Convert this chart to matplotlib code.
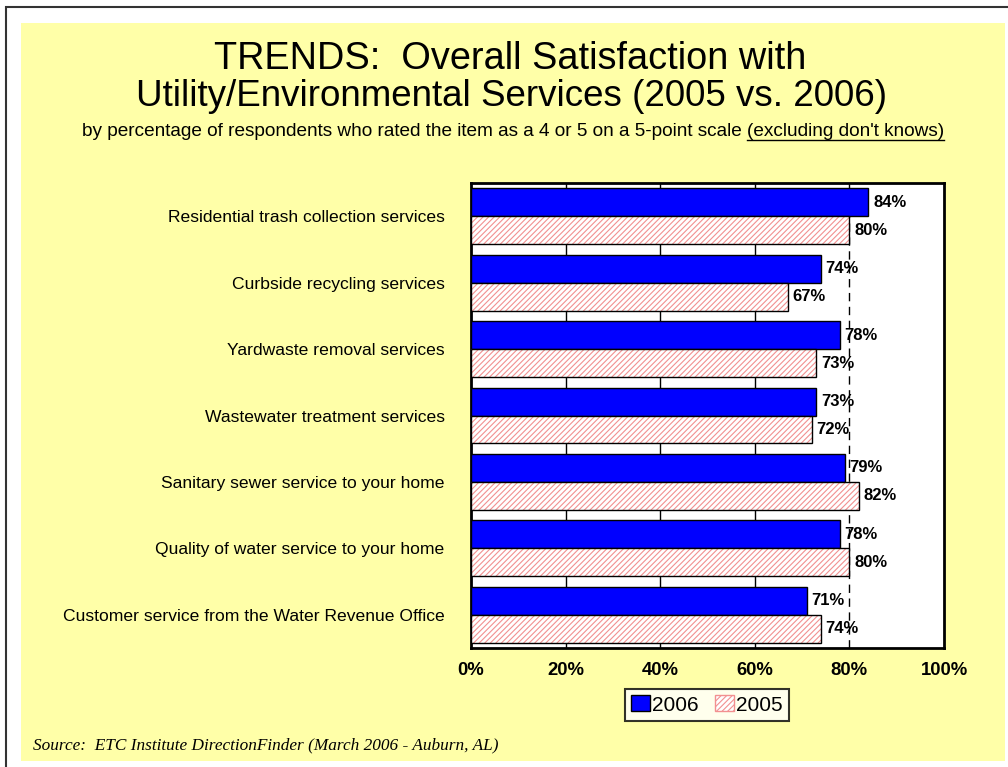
import numpy as np
import matplotlib
matplotlib.use("Agg")
import matplotlib.pyplot as plt
from matplotlib.patches import Rectangle, Patch
from matplotlib.lines import Line2D

plt.rcParams['font.family'] = ['Liberation Sans', 'DejaVu Sans']
plt.rcParams['hatch.linewidth'] = 0.8

# survey items, top to bottom
items = ["Residential trash collection services",
         "Curbside recycling services",
         "Yardwaste removal services",
         "Wastewater treatment services",
         "Sanitary sewer service to your home",
         "Quality of water service to your home",
         "Customer service from the Water Revenue Office"]
pct_2006 = [84, 74, 78, 73, 79, 78, 71]
pct_2005 = [80, 67, 73, 72, 82, 80, 74]
xticks = [0, 20, 40, 60, 80, 100]

W, H = 1008, 767
fig = plt.figure(figsize=(W / 100, H / 100), dpi=100)
fig.patch.set_facecolor('white')

# slide frame and yellow panel
fig.add_artist(Rectangle((6 / W, -0.5), 2, 1.5 - 7 / H, transform=fig.transFigure,
                         facecolor='white', edgecolor='#333333', lw=1.5, zorder=-10))
fig.add_artist(Rectangle((21 / W, 1 - 761 / H), (1005 - 21) / W, (761 - 23) / H,
                         transform=fig.transFigure, facecolor='#ffffa8', edgecolor='none',
                         zorder=-9))

ax = fig.add_axes([471 / W, 1 - 648 / H, (944 - 471) / W, (648 - 183) / H])
ax.set_facecolor('white')

n = len(items)
y = np.arange(n)
h = 0.42

blue = '#0000ff'
pink = '#f29090'

ax.barh(y - h / 2, pct_2006, height=h, color=blue, edgecolor='black', lw=1, zorder=3)
ax.barh(y + h / 2, pct_2005, height=h, color='white', edgecolor=pink, hatch='//////',
        lw=0, zorder=3)
ax.barh(y + h / 2, pct_2005, height=h, fill=False, edgecolor='black', lw=1, zorder=4)

for i in range(n):
    ax.text(pct_2006[i] + 1.0, y[i] - h / 2, f"{pct_2006[i]}%", va='center', ha='left',
            fontsize=12, fontweight='bold', zorder=5)
    ax.text(pct_2005[i] + 1.0, y[i] + h / 2, f"{pct_2005[i]}%", va='center', ha='left',
            fontsize=12, fontweight='bold', zorder=5)

# gridlines behind the bars
for v in [20, 40, 60]:
    ax.axvline(v, color='black', lw=1, zorder=1)
ax.axvline(80, color='black', lw=1, ls=(0, (6, 4)), zorder=1)

ax.set_xlim(0, 100)
ax.set_ylim(n - 0.5, -0.5)
ax.set_xticks(xticks)
ax.set_xticklabels([f"{v}%" for v in xticks], fontsize=13.3, fontweight='bold')
ax.tick_params(axis='x', length=0, pad=10)
ax.set_yticks(y)
ax.set_yticklabels(items, fontsize=12.6)
ax.tick_params(axis='y', length=0, pad=19)
for s in ax.spines.values():
    s.set_linewidth(2)

# legend
handles = [Patch(facecolor=blue, edgecolor='black', lw=1),
           Patch(facecolor='white', edgecolor=pink, hatch='//////', lw=1)]
leg = fig.legend(handles, ['2006', '2005'], loc='center', bbox_to_anchor=(707 / W, 1 - 705 / H),
                 ncol=2, fontsize=15, frameon=True, fancybox=False, handlelength=0.9,
                 handleheight=0.8, handletextpad=0.1, columnspacing=0.8,
                 borderpad=0.3, edgecolor='black')
leg.get_frame().set_linewidth(1.5)

# titles
fig.text(510 / W, 1 - 59 / H, "TRENDS:  Overall Satisfaction with", ha='center', va='center',
         fontsize=27.3)
fig.text(511 / W, 1 - 97 / H, "Utility/Environmental Services (2005 vs. 2006)", ha='center',
         va='center', fontsize=26.5)

part1 = "by percentage of respondents who rated the item as a 4 or 5 on a 5-point scale "
part2 = "(excluding don't knows)"
t1 = fig.text(0, 1 - 132 / H, part1, ha='left', va='center', fontsize=13.7)
t2 = fig.text(0, 1 - 132 / H, part2, ha='left', va='center', fontsize=13.7)
fig.canvas.draw()
r = fig.canvas.get_renderer()
w1 = t1.get_window_extent(r).width
w2 = t2.get_window_extent(r).width
x0 = 513 - (w1 + w2) / 2
t1.set_x(x0 / W)
t2.set_x((x0 + w1) / W)
bb = t2.get_window_extent(r)
uy = (bb.y0 + 1) / H
fig.add_artist(Line2D([(x0 + w1) / W, (x0 + w1 + w2) / W], [uy, uy],
                      transform=fig.transFigure, color='black', lw=1))

fig.text(33 / W, 1 - 745 / H, "Source:  ETC Institute DirectionFinder (March 2006 - Auburn, AL)",
         ha='left', va='center', fontsize=12.4, style='italic',
         family=['Liberation Serif', 'DejaVu Serif'])

fig.savefig("out.png", dpi=100)
